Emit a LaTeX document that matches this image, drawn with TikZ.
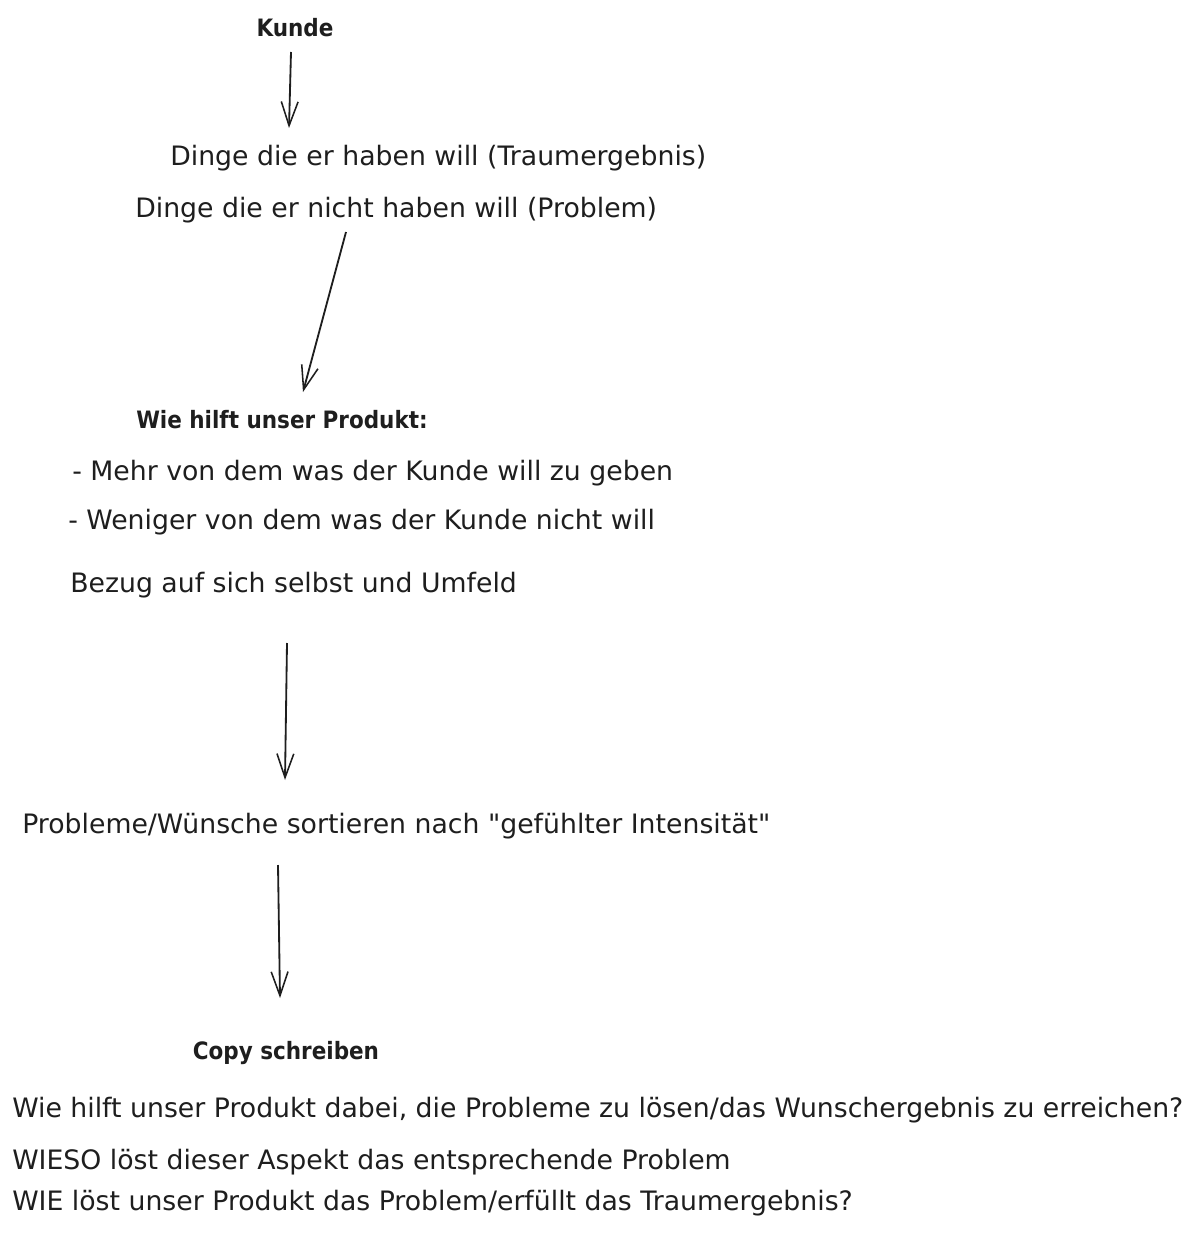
\documentclass[tikz,border=0pt]{standalone}
\usepackage{fontspec}
\setmainfont{DejaVu Sans}[Ligatures=TeXOff]
\newfontfamily\headfont{DejaVu Sans Condensed}
\usetikzlibrary{arrows.meta}
\definecolor{ink}{HTML}{1E1E1E}
\tikzset{
	hand/.style={anchor=west,inner sep=0pt,text=ink,font=\fontsize{19}{22}\selectfont},
	head/.style={anchor=center,inner sep=0pt,text=ink,font=\headfont\bfseries\fontsize{17}{20}\selectfont},
	arr/.style={draw=ink,line width=1.3pt,-{Straight Barb[length=0.6cm,width=0.42cm,line width=1.1pt]}}
}
\begin{document}
\begin{tikzpicture}[x=0.025cm,y=-0.025cm]
		\useasboundingbox (0,0) rectangle (1194,1233);
		\node (kunde) [head] at (295,28) {Kunde};
		\node (haben) [hand] at (170,158) {Dinge die er haben will (Traumergebnis)};
		\node (nicht) [hand] at (135,210) {Dinge die er nicht haben will (Problem)};
		\node (produkt) [head] at (282,420) {Wie hilft unser Produkt:};
		\node (mehr) [hand] at (72,473) {- Mehr von dem was der Kunde will zu geben};
		\node (weniger) [hand] at (68,522) {- Weniger von dem was der Kunde nicht will};
		\node (bezug) [hand] at (70,585) {Bezug auf sich selbst und Umfeld};
		\node (sortieren) [hand] at (22,826) {Probleme/Wünsche sortieren nach "gefühlter Intensität"};
		\node (copy) [head] at (286,1053) {Copy schreiben};
		\node (wie) [hand] at (12,1110) {Wie hilft unser Produkt dabei, die Probleme zu lösen/das Wunschergebnis zu erreichen?};
		\node (wieso) [hand] at (12,1162) {WIESO löst dieser Aspekt das entsprechende Problem};
		\node (wieerf) [hand] at (12,1203) {WIE löst unser Produkt das Problem/erfüllt das Traumergebnis?};
		% arrow ends
		\coordinate (k1) at (291,52);
		\coordinate (h1) at (289,128);
		\coordinate (n1) at (346,232);
		\coordinate (p1) at (303,392);
		\coordinate (b1) at (287,643);
		\coordinate (s1) at (285,780);
		\coordinate (s2) at (278,865);
		\coordinate (c1) at (280,998);
		\draw [arr] (k1) -- (h1);
		\draw [arr] (n1) -- (p1);
		\draw [arr] (b1) -- (s1);
		\draw [arr] (s2) -- (c1);
	\end{tikzpicture}
\end{document}
